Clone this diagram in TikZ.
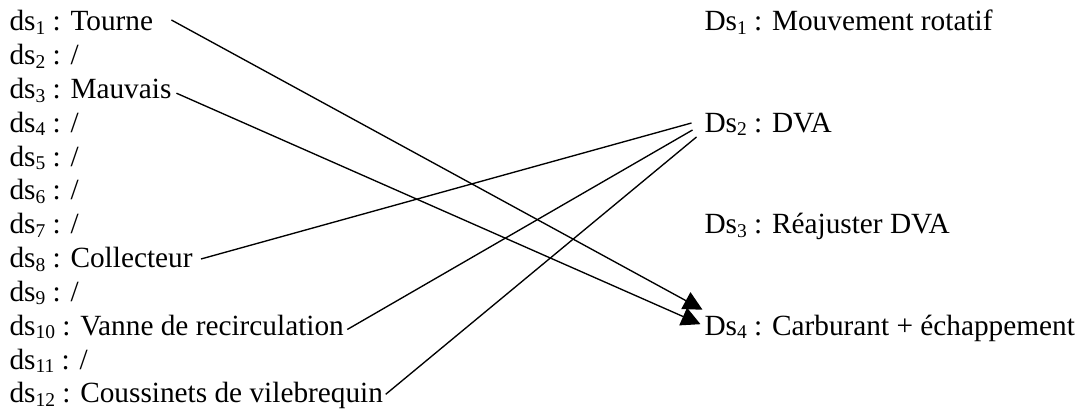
\documentclass[tikz,border=0pt]{standalone}
\usepackage{fontspec}
\setmainfont{Liberation Serif}
\usetikzlibrary{arrows.meta,calc}
\newcommand{\sbs}[1]{\raisebox{-3.5pt}{\fontsize{19.5pt}{20pt}\selectfont #1}}
\begin{document}
\begin{tikzpicture}[x=1pt,y=-1pt,
  lbl/.style={anchor=base west,inner sep=0pt,outer sep=0pt,font=\fontsize{29.3pt}{34pt}\selectfont},
  link/.style={line width=1.35pt},
  arr/.style={link,-{Triangle[length=19pt,width=19pt]}}]
\useasboundingbox[fill=white] (0,0) rectangle (1078,411);
% left column
\node[lbl] (l1)  at (9.5,31)    {ds\sbs{1} : Tourne};
\node[lbl] (l2)  at (9.5,64.8)  {ds\sbs{2} : /};
\node[lbl] (l3)  at (9.5,98.6)  {ds\sbs{3} : Mauvais};
\node[lbl] (l4)  at (9.5,132.4) {ds\sbs{4} : /};
\node[lbl] (l5)  at (9.5,166.2) {ds\sbs{5} : /};
\node[lbl] (l6)  at (9.5,200)   {ds\sbs{6} : /};
\node[lbl] (l7)  at (9.5,233.8) {ds\sbs{7} : /};
\node[lbl] (l8)  at (9.5,267.6) {ds\sbs{8} : Collecteur};
\node[lbl] (l9)  at (9.5,301.4) {ds\sbs{9} : /};
\node[lbl] (l10) at (9.5,335.2) {ds\sbs{10} : Vanne de recirculation};
\node[lbl] (l11) at (9.5,369)   {ds\sbs{11} : /};
\node[lbl] (l12) at (9.5,402.8) {ds\sbs{12} : Coussinets de vilebrequin};
% right column
\node[lbl] (r1) at (704.5,31)    {Ds\sbs{1} : Mouvement rotatif};
\node[lbl] (r2) at (704.5,132.4) {Ds\sbs{2} : DVA};
\node[lbl] (r3) at (704.5,233.8) {Ds\sbs{3} : Réajuster DVA};
\node[lbl] (r4) at (704.5,335.2) {Ds\sbs{4} : Carburant + échappement};
% connectors
\draw[arr] ($(l1.base east)+(18.3pt,11pt)$) -- ($(r4.base west)+(-2pt,25.5pt)$);
\draw[arr] ($(l3.base east)+(5pt,5.4pt)$) -- ($(r4.base west)+(-4pt,11pt)$);
\draw[link] ($(l8.base east)+(8.4pt,8.6pt)$) -- ($(r2.base west)+(-13pt,9.4pt)$);
\draw[link] ($(l10.base east)+(3.4pt,5.7pt)$) -- ($(r2.base west)+(-12pt,2.4pt)$);
\draw[link] ($(l12.base east)+(2.7pt,8.5pt)$) -- ($(r2.base west)+(-8pt,-4.6pt)$);
\end{tikzpicture}
\end{document}
